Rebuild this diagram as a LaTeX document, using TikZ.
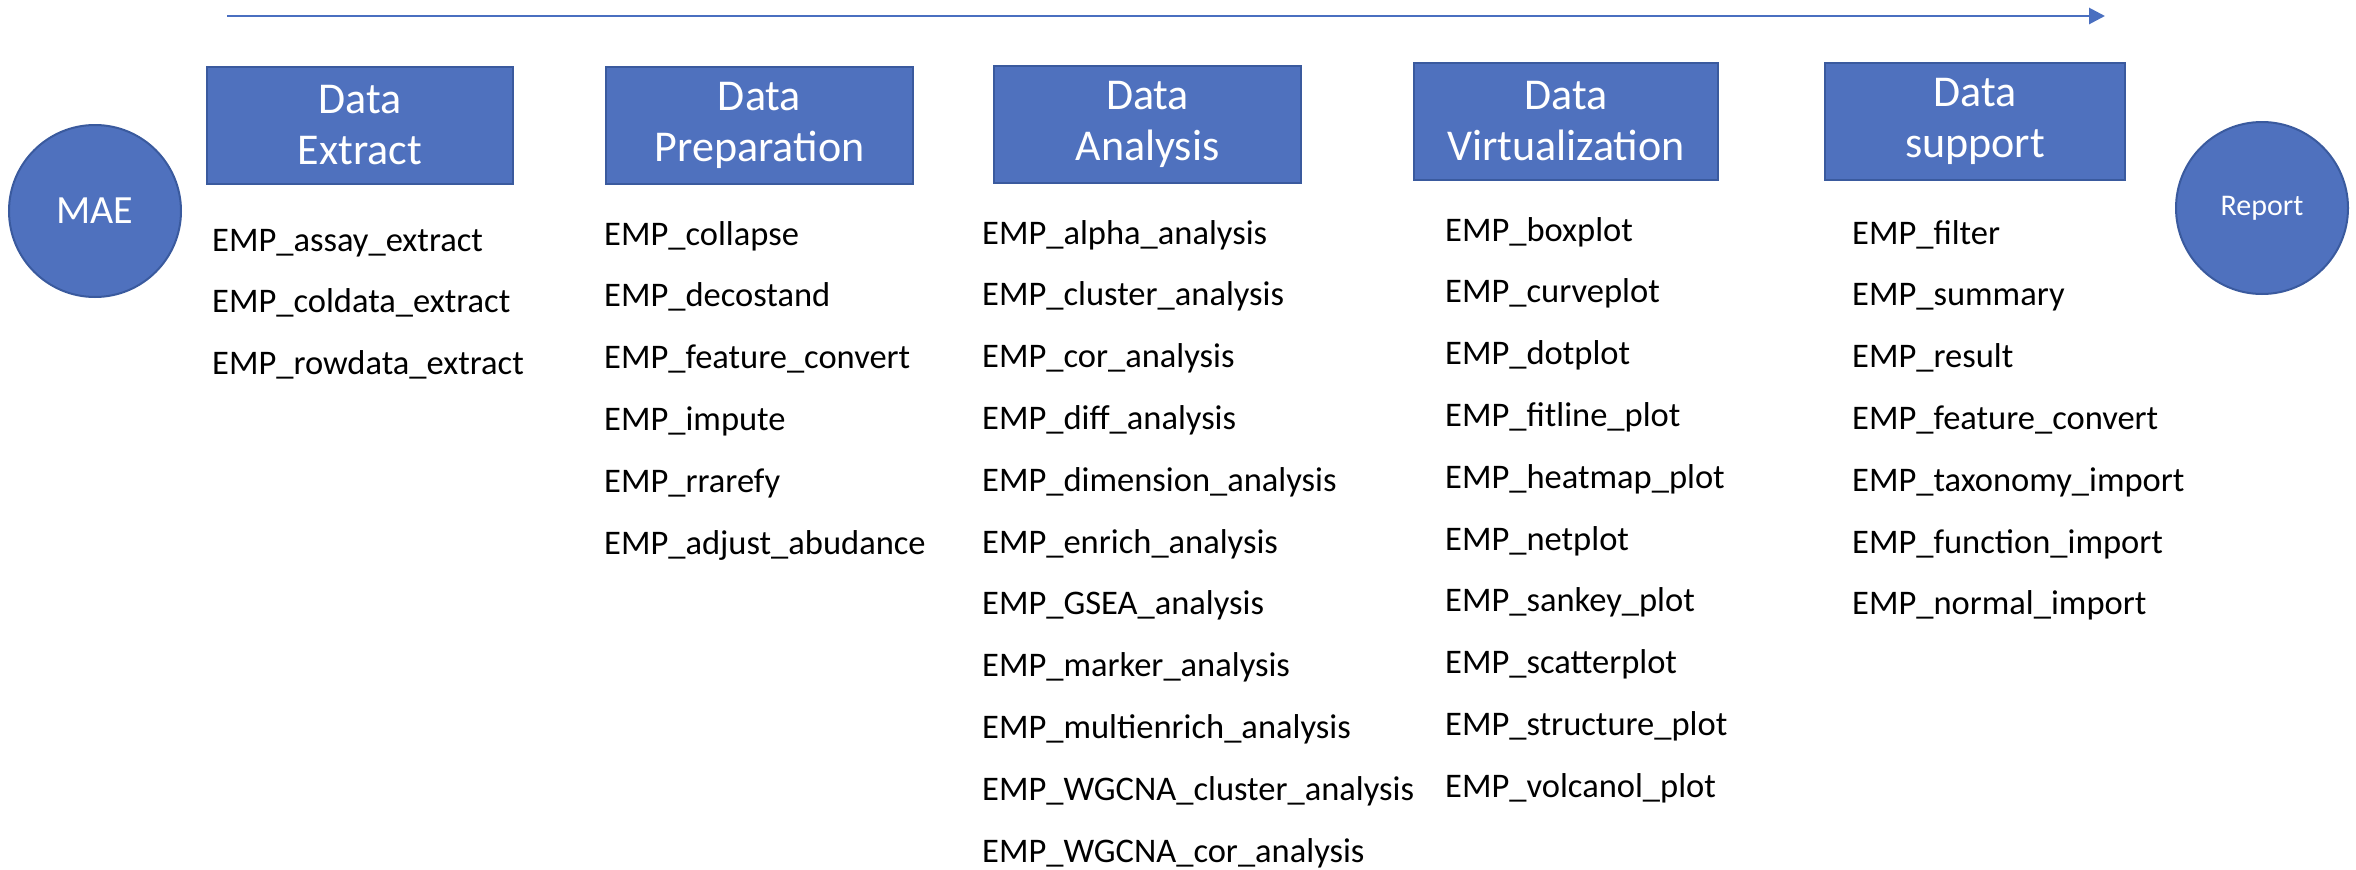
\documentclass[tikz,border=0pt]{standalone}
\usepackage{fontspec}
\setmainfont{Carlito}
\usetikzlibrary{arrows.meta}
\definecolor{boxblue}{HTML}{4F71BE}
\definecolor{edgeblue}{HTML}{3A5A9E}
\definecolor{flowblue}{HTML}{4A6FC0}

\begin{document}
\begin{tikzpicture}[x=1pt,y=-1pt,
  stage/.style={draw=edgeblue, line width=2pt, fill=boxblue, text=white,
    align=center, inner sep=0pt, minimum height=117pt,
    font=\fontsize{44}{51}\selectfont},
  endpoint/.style={circle, draw=edgeblue, line width=2pt, fill=boxblue,
    text=white, inner sep=0pt, minimum size=172pt},
  func/.style={anchor=base west, inner sep=0pt,
    font=\fontsize{34.5}{40}\selectfont},
  flow/.style={line width=2.8pt, draw=flowblue,
    -{Triangle[length=16pt,width=16pt]}}
]
\useasboundingbox (0,0) rectangle (2356,870);

% overall flow direction
\coordinate (flowstart) at (227,16);
\coordinate (flowend) at (2105,16);
\draw[flow] (flowstart) -- (flowend);

% input and output
\node[endpoint, font=\fontsize{40}{48}\selectfont] (mae) at (95,211) {MAE};
\node[endpoint, font=\fontsize{30}{36}\selectfont] (report) at (2262,208) {Report};

% stage headers
\node[stage, minimum width=306pt] (extract) at (360,125.5) {Data\\Extract};
\node[stage, minimum width=307pt] (prep) at (759.5,125.5) {Data\\Preparation};
\node[stage, minimum width=307pt] (analysis) at (1147.5,124.5) {Data\\Analysis};
\node[stage, minimum width=304pt] (virt) at (1566,121) {Data\\Virtualization};
\node[stage, minimum width=300pt] (support) at (1975,121) {Data\\support};

% functions of each stage
\foreach \fn [count=\i] in {EMP\_assay\_extract, EMP\_coldata\_extract, EMP\_rowdata\_extract}
  \node[func] (ext\i) at (212,251+61.8*\i-61.8) {\fn};

\foreach \fn [count=\i] in {EMP\_collapse, EMP\_decostand, EMP\_feature\_convert,
    EMP\_impute, EMP\_rrarefy, EMP\_adjust\_abudance}
  \node[func] (prep\i) at (604,245+61.8*\i-61.8) {\fn};

\foreach \fn [count=\i] in {EMP\_alpha\_analysis, EMP\_cluster\_analysis,
    EMP\_cor\_analysis, EMP\_diff\_analysis, EMP\_dimension\_analysis,
    EMP\_enrich\_analysis, EMP\_GSEA\_analysis, EMP\_marker\_analysis,
    EMP\_multienrich\_analysis, EMP\_WGCNA\_cluster\_analysis,
    EMP\_WGCNA\_cor\_analysis}
  \node[func] (ana\i) at (982,244+61.8*\i-61.8) {\fn};

\foreach \fn [count=\i] in {EMP\_boxplot, EMP\_curveplot, EMP\_dotplot,
    EMP\_fitline\_plot, EMP\_heatmap\_plot, EMP\_netplot, EMP\_sankey\_plot,
    EMP\_scatterplot, EMP\_structure\_plot, EMP\_volcanol\_plot}
  \node[func] (vis\i) at (1445,241+61.8*\i-61.8) {\fn};

\foreach \fn [count=\i] in {EMP\_filter, EMP\_summary, EMP\_result,
    EMP\_feature\_convert, EMP\_taxonomy\_import, EMP\_function\_import,
    EMP\_normal\_import}
  \node[func] (sup\i) at (1852,244+61.8*\i-61.8) {\fn};
\end{tikzpicture}
\end{document}
